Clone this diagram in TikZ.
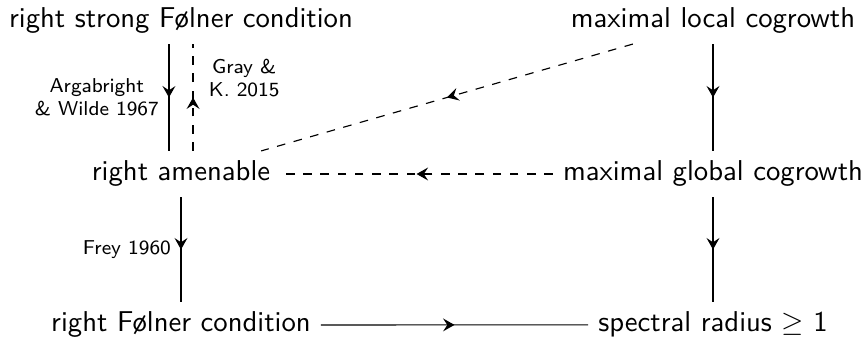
\documentclass[tikz,border=0pt]{standalone}
\usetikzlibrary{arrows.meta, decorations.markings}
\tikzset{
  every picture/.style={font=\sffamily},
  cond/.style={anchor=base},
  midarrow/.style={postaction={decorate}, decoration={markings, mark=at position 0.5 with {\arrow{Stealth[length=4pt, width=4.5pt, inset=1.5pt]}}}},
  cite/.style={font=\sffamily\scriptsize, align=center},
}
\begin{document}
\begin{tikzpicture}[x=0.3484pt, y=-0.3484pt]
  \useasboundingbox (0,0) rectangle (867,338);
  \node[cond] (rsf) at (181,28) {right strong Følner condition};
  \node[cond] (mlc) at (713,28) {maximal local cogrowth};
  \node[cond] (ra) at (181,181) {right amenable};
  \node[cond] (mgc) at (713,181) {maximal global cogrowth};
  \node[cond] (rf) at (181,332) {right Følner condition};
  \node[cond] (sr) at (713,332) {spectral radius $\geq$ 1};
  \draw[midarrow] ([xshift=-4.2pt]rsf.south) -- node[cite, left] (aw) {Argabright\\\& Wilde 1967} ([xshift=-4.2pt]ra.north);
  \draw[dashed, midarrow] ([xshift=4.2pt]ra.north) -- node[cite, right, pos=0.68, xshift=2pt] (gk) {Gray \&\\K. 2015} ([xshift=4.2pt]rsf.south);
  \draw[dashed, midarrow] (mlc) -- (ra);
  \draw[dashed, midarrow] (mgc) -- (ra);
  \draw[midarrow] (mlc) -- (mgc);
  \draw[midarrow] (ra) -- node[cite, left] (fr) {Frey 1960} (rf);
  \draw[midarrow] (mgc) -- (sr);
  \draw[midarrow] (rf) -- (sr);
\end{tikzpicture}
\end{document}
